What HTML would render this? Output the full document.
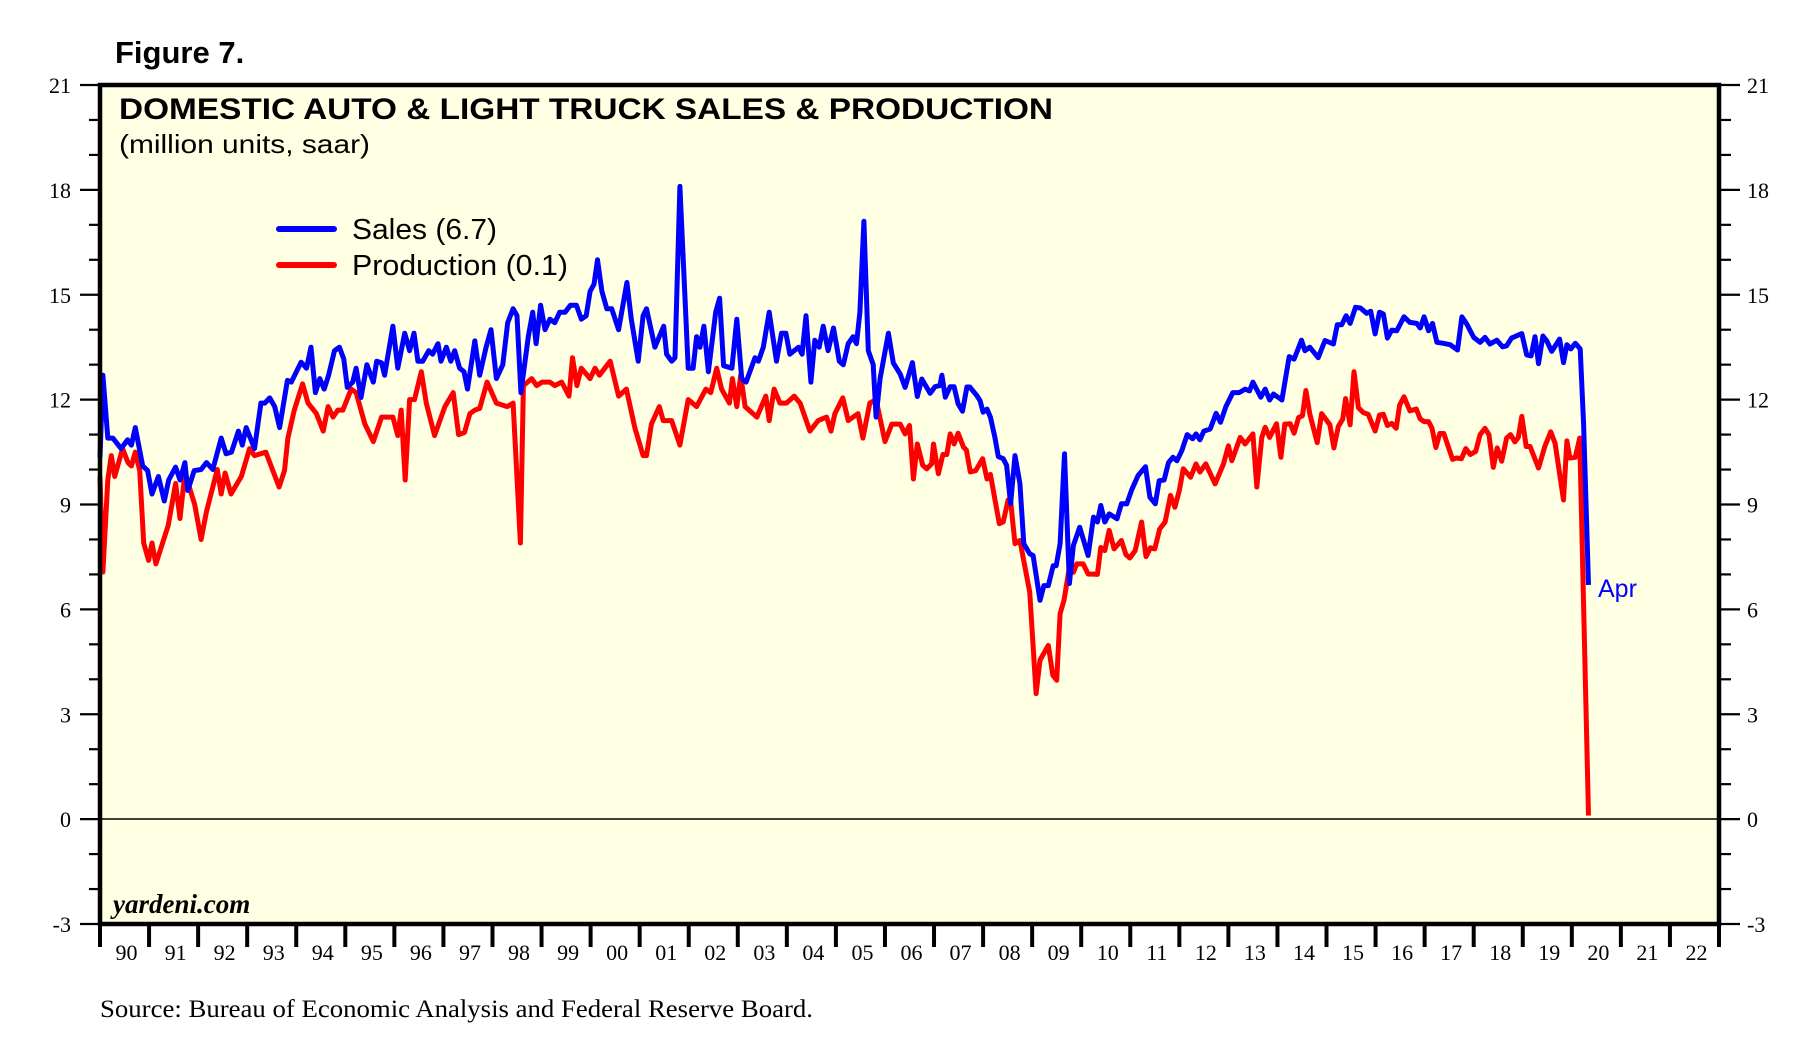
<!DOCTYPE html>
<html><head><meta charset="utf-8"><style>
html,body{margin:0;padding:0;background:#fff;}
svg{display:block;}
</style></head><body>
<svg id="chart" width="1812" height="1051" viewBox="0 0 1812 1051" xmlns="http://www.w3.org/2000/svg">
<text x="115" y="63" font-family="Liberation Sans, sans-serif" font-weight="bold" font-size="31">Figure 7.</text>
<rect x="100" y="85" width="1619" height="839" fill="#FFFFE3"/>
<g id="axes"></g>
<line x1="100" x2="1719" y1="819" y2="819" stroke="#000" stroke-width="1.6"/>
<g id="series"></g>
<rect x="100" y="85" width="1619" height="839" fill="none" stroke="#000" stroke-width="4.5"/>
<text x="119" y="119" font-family="Liberation Sans, sans-serif" font-weight="bold" font-size="30" textLength="934" lengthAdjust="spacingAndGlyphs">DOMESTIC AUTO &amp; LIGHT TRUCK SALES &amp; PRODUCTION</text>
<text x="119" y="153" font-family="Liberation Sans, sans-serif" font-size="26" textLength="251" lengthAdjust="spacingAndGlyphs">(million units, saar)</text>
<g>
<line x1="279" x2="334" y1="229" y2="229" stroke="#0000FF" stroke-width="6" stroke-linecap="round"/>
<text x="352" y="239" font-family="Liberation Sans, sans-serif" font-size="29" textLength="145" lengthAdjust="spacingAndGlyphs">Sales (6.7)</text>
<line x1="279" x2="334" y1="265" y2="265" stroke="#FF0000" stroke-width="6" stroke-linecap="round"/>
<text x="352" y="275" font-family="Liberation Sans, sans-serif" font-size="29" textLength="216" lengthAdjust="spacingAndGlyphs">Production (0.1)</text>
</g>
<text x="1598" y="597" font-family="Liberation Sans, sans-serif" font-size="25" fill="#0000FF">Apr</text>
<text x="113" y="913" font-family="Liberation Serif, serif" font-weight="bold" font-style="italic" font-size="27">yardeni.com</text>
<text x="100" y="1017" font-family="Liberation Serif, serif" font-size="25" textLength="713" lengthAdjust="spacingAndGlyphs">Source: Bureau of Economic Analysis and Federal Reserve Board.</text>
</svg>
<script>
// Data (years since Jan 1990, million units saar)
const salesT = [0.0,0.06,0.16,0.26,0.43,0.56,0.64,0.72,0.87,0.97,1.06,1.19,1.31,1.4,1.54,1.63,1.73,1.79,1.92,2.06,2.17,2.3,2.47,2.57,2.68,2.82,2.9,2.98,3.15,3.28,3.36,3.46,3.56,3.66,3.82,3.9,4.1,4.21,4.3,4.39,4.48,4.57,4.66,4.78,4.88,4.97,5.04,5.15,5.22,5.32,5.44,5.57,5.64,5.74,5.8,5.97,6.07,6.21,6.31,6.4,6.48,6.58,6.7,6.78,6.89,6.95,7.06,7.15,7.23,7.33,7.42,7.49,7.64,7.74,7.87,7.97,8.08,8.21,8.31,8.42,8.5,8.58,8.73,8.82,8.89,8.98,9.07,9.17,9.27,9.37,9.48,9.59,9.71,9.81,9.91,9.99,10.07,10.14,10.23,10.33,10.43,10.57,10.74,10.83,10.97,11.07,11.14,11.31,11.49,11.55,11.65,11.72,11.82,11.99,12.09,12.16,12.23,12.31,12.4,12.55,12.63,12.71,12.88,12.98,13.08,13.17,13.35,13.42,13.52,13.64,13.79,13.89,13.98,14.06,14.24,14.31,14.39,14.49,14.57,14.66,14.74,14.84,14.95,15.07,15.15,15.25,15.35,15.42,15.49,15.57,15.66,15.76,15.82,15.9,16.07,16.17,16.31,16.41,16.56,16.66,16.75,16.92,17.02,17.12,17.16,17.23,17.33,17.41,17.49,17.58,17.67,17.73,17.87,17.94,18.0,18.08,18.15,18.24,18.31,18.41,18.48,18.56,18.65,18.75,18.83,18.95,19.02,19.16,19.24,19.33,19.43,19.49,19.57,19.66,19.76,19.84,19.97,20.14,20.25,20.33,20.4,20.48,20.57,20.73,20.82,20.93,21.03,21.16,21.31,21.4,21.51,21.59,21.69,21.78,21.87,21.95,22.05,22.16,22.27,22.34,22.42,22.5,22.63,22.75,22.84,22.95,23.09,23.22,23.34,23.43,23.5,23.66,23.75,23.84,23.92,24.09,24.24,24.34,24.49,24.56,24.66,24.83,24.97,25.14,25.22,25.31,25.4,25.48,25.59,25.69,25.82,25.9,25.99,26.08,26.16,26.24,26.33,26.43,26.58,26.7,26.84,26.91,26.99,27.08,27.16,27.25,27.38,27.52,27.67,27.76,27.86,28.0,28.13,28.23,28.33,28.47,28.59,28.67,28.77,28.98,29.08,29.17,29.25,29.32,29.41,29.49,29.59,29.75,29.83,29.9,29.98,30.07,30.17,30.24,30.34];
const salesV = [10.35,12.7,10.9,10.9,10.6,10.85,10.7,11.2,10.1,9.97,9.3,9.8,9.1,9.7,10.07,9.7,10.2,9.4,9.97,10.0,10.2,10.0,10.9,10.45,10.5,11.1,10.7,11.2,10.6,11.9,11.9,12.05,11.8,11.2,12.55,12.5,13.07,12.9,13.5,12.2,12.6,12.3,12.7,13.4,13.5,13.16,12.35,12.5,12.9,12.06,13.0,12.5,13.1,13.05,12.7,14.1,12.9,13.9,13.4,13.9,13.1,13.1,13.4,13.3,13.6,13.1,13.5,13.1,13.4,12.9,12.8,12.3,13.68,12.7,13.5,14.0,12.6,13.0,14.2,14.6,14.4,12.2,13.8,14.5,13.6,14.7,14.0,14.3,14.2,14.5,14.5,14.7,14.7,14.3,14.4,15.1,15.3,16.0,15.1,14.6,14.6,14.0,15.35,14.3,13.1,14.4,14.6,13.5,14.1,13.3,13.1,13.2,18.1,12.9,12.9,13.8,13.5,14.1,12.8,14.5,14.9,12.97,12.9,14.3,12.6,12.5,13.2,13.1,13.5,14.5,13.1,13.9,13.9,13.3,13.5,13.3,14.4,12.5,13.7,13.5,14.1,13.4,14.05,13.1,13.0,13.6,13.8,13.6,14.5,17.1,13.4,13.0,11.5,12.6,13.9,13.05,12.73,12.35,13.06,12.09,12.59,12.18,12.37,12.4,12.7,12.07,12.37,12.37,11.88,11.67,12.36,12.36,12.12,11.97,11.64,11.73,11.5,10.92,10.37,10.31,10.12,9.02,10.4,9.6,7.88,7.59,7.54,6.26,6.68,6.68,7.25,7.25,7.88,10.45,6.74,7.83,8.35,7.54,8.64,8.5,8.97,8.5,8.73,8.59,9.02,9.02,9.42,9.83,10.08,9.21,9.02,9.68,9.7,10.2,10.35,10.25,10.54,11.0,10.88,11.02,10.85,11.1,11.16,11.61,11.35,11.8,12.2,12.2,12.3,12.25,12.5,12.07,12.3,11.99,12.16,11.99,13.23,13.16,13.7,13.4,13.5,13.2,13.69,13.59,14.14,14.14,14.4,14.18,14.64,14.62,14.47,14.53,13.88,14.5,14.45,13.76,13.99,13.97,14.37,14.21,14.18,14.05,14.37,13.97,14.18,13.64,13.61,13.57,13.42,14.37,14.16,13.78,13.64,13.78,13.59,13.7,13.51,13.54,13.76,13.89,13.28,13.25,13.8,13.03,13.82,13.68,13.38,13.73,13.06,13.57,13.45,13.61,13.45,11.3,6.7];
const prodT = [0.0,0.06,0.16,0.23,0.3,0.46,0.57,0.64,0.72,0.81,0.89,0.99,1.06,1.14,1.39,1.54,1.63,1.73,1.93,2.06,2.17,2.3,2.39,2.47,2.55,2.67,2.88,3.05,3.15,3.38,3.65,3.76,3.83,3.96,4.13,4.24,4.41,4.55,4.65,4.75,4.85,4.95,5.12,5.22,5.4,5.57,5.74,5.97,6.07,6.14,6.22,6.31,6.41,6.55,6.65,6.82,7.03,7.2,7.31,7.43,7.54,7.64,7.74,7.89,8.08,8.3,8.42,8.57,8.63,8.8,8.9,9.01,9.17,9.27,9.41,9.56,9.63,9.72,9.81,9.99,10.09,10.18,10.4,10.57,10.73,10.9,11.07,11.14,11.24,11.4,11.48,11.65,11.82,11.99,12.16,12.35,12.45,12.57,12.67,12.83,12.89,12.98,13.06,13.15,13.39,13.57,13.64,13.74,13.86,13.99,14.15,14.27,14.47,14.64,14.81,14.9,14.98,15.14,15.25,15.45,15.55,15.69,15.82,16.0,16.14,16.31,16.41,16.5,16.58,16.66,16.77,16.85,16.95,16.99,17.09,17.18,17.26,17.33,17.41,17.49,17.6,17.66,17.74,17.85,17.99,18.08,18.15,18.33,18.41,18.51,18.56,18.65,18.75,18.95,19.08,19.16,19.33,19.42,19.5,19.57,19.65,19.76,19.84,19.91,20.04,20.14,20.25,20.33,20.4,20.48,20.57,20.67,20.82,20.91,20.99,21.1,21.23,21.32,21.41,21.5,21.6,21.71,21.82,21.91,22.0,22.08,22.23,22.34,22.42,22.54,22.73,22.9,23.0,23.07,23.24,23.34,23.5,23.58,23.68,23.75,23.84,23.98,24.07,24.15,24.26,24.34,24.43,24.51,24.58,24.66,24.81,24.9,25.07,25.15,25.24,25.33,25.39,25.48,25.56,25.65,25.75,25.85,25.99,26.08,26.16,26.24,26.33,26.42,26.49,26.58,26.7,26.83,26.91,26.99,27.08,27.15,27.23,27.31,27.39,27.57,27.65,27.75,27.84,27.93,28.04,28.13,28.23,28.31,28.4,28.48,28.57,28.67,28.75,28.84,28.91,28.98,29.07,29.15,29.32,29.45,29.57,29.66,29.83,29.9,29.96,30.07,30.16,30.34];
const prodV = [9.8,7.07,9.7,10.4,9.8,10.6,10.2,10.1,10.5,9.97,7.9,7.4,7.9,7.3,8.4,9.6,8.6,9.9,9.0,8.0,8.8,9.5,10.0,9.3,9.9,9.3,9.8,10.6,10.4,10.5,9.5,9.97,10.9,11.7,12.45,11.9,11.6,11.1,11.8,11.5,11.7,11.7,12.3,12.2,11.3,10.8,11.5,11.5,10.97,11.7,9.7,12.0,12.0,12.8,11.9,10.97,11.8,12.2,11.0,11.06,11.6,11.7,11.75,12.5,11.9,11.8,11.9,7.9,12.4,12.6,12.4,12.5,12.5,12.4,12.5,12.1,13.2,12.4,12.9,12.6,12.9,12.7,13.1,12.1,12.3,11.2,10.4,10.4,11.3,11.8,11.4,11.4,10.7,12.0,11.8,12.3,12.2,12.9,12.3,11.9,12.6,11.8,12.7,11.8,11.5,12.1,11.4,12.3,11.9,11.9,12.1,11.9,11.1,11.4,11.5,11.1,11.6,12.05,11.4,11.6,10.9,11.9,12.0,10.8,11.3,11.3,11.02,11.26,9.73,10.73,10.12,10.02,10.16,10.73,9.88,10.43,10.43,11.02,10.73,11.04,10.64,10.56,9.93,9.97,10.31,9.73,9.86,8.45,8.5,9.13,9.1,7.88,7.97,6.5,3.59,4.55,4.97,4.12,3.97,5.88,6.26,7.21,7.06,7.3,7.3,7.01,7.01,7.0,7.77,7.68,8.26,7.73,7.97,7.57,7.47,7.68,8.5,7.51,7.76,7.73,8.3,8.5,9.26,8.92,9.4,10.02,9.78,10.16,9.93,10.16,9.59,10.16,10.68,10.25,10.92,10.73,11.02,9.5,10.92,11.21,10.92,11.31,10.35,11.3,11.31,11.04,11.49,11.54,12.26,11.59,10.77,11.6,11.28,10.62,11.23,11.44,12.03,11.28,12.8,11.77,11.63,11.58,11.1,11.56,11.58,11.26,11.32,11.18,11.84,12.08,11.68,11.73,11.45,11.37,11.37,11.18,10.63,11.03,11.03,10.29,10.33,10.31,10.6,10.43,10.52,11.0,11.18,11.0,10.06,10.62,10.24,10.9,11.0,10.79,10.92,11.52,10.66,10.66,10.04,10.66,11.08,10.75,9.13,10.82,10.33,10.35,10.9,0.1];
const yTicks = [-3,0,3,6,9,12,15,18,21];
const yearLabels = ["90","91","92","93","94","95","96","97","98","99","00","01","02","03","04","05","06","07","08","09","10","11","12","13","14","15","16","17","18","19","20","21","22"];

const NS = "http://www.w3.org/2000/svg";
const X0 = 100, X1 = 1719, Y0 = 924, Y1 = 85, VMIN = -3, VMAX = 21, NYEARS = 33;
function xScale(t){ return X0 + t * (X1 - X0) / NYEARS; }
function yScale(v){ return Y0 - (v - VMIN) * (Y0 - Y1) / (VMAX - VMIN); }
function mk(tag, attrs, parent){ const e=document.createElementNS(NS,tag); for(const k in attrs) e.setAttribute(k,attrs[k]); parent.appendChild(e); return e; }

const axes = document.getElementById('axes');
for (let v = VMIN; v <= VMAX; v++) {
  const major = (v % 3 === 0);
  const y = yScale(v);
  const tl = mk('line',{x1: major?80:89, x2:100, y1:y, y2:y, stroke:'#000', 'stroke-width':2.2}, axes);
  
  
  const tr = mk('line',{x1:1719, x2: major?1740:1731, y1:y, y2:y, stroke:'#000', 'stroke-width':2.2}, axes);
  
  
}
yTicks.forEach(v => {
  const y = yScale(v);
  const l = mk('text',{x:71, y:y+8, 'text-anchor':'end', 'font-family':'Liberation Serif, serif', 'font-size':22}, axes);
  l.textContent = String(v);
  
  
  const r = mk('text',{x:1747, y:y+8, 'text-anchor':'start', 'font-family':'Liberation Serif, serif', 'font-size':22}, axes);
  r.textContent = String(v);
  
  
});
for (let i = 0; i <= NYEARS; i++) {
  const x = xScale(i);
  const t = mk('line',{x1:x, x2:x, y1:924, y2:947, stroke:'#000', 'stroke-width':4}, axes);
  
  
}
yearLabels.forEach((lab, i) => {
  const t = mk('text',{x:xScale(i+0.5)+2, y:960, 'text-anchor':'middle', 'font-family':'Liberation Serif, serif', 'font-size':22}, axes);
  t.textContent = lab;
  
  
});

const series = document.getElementById('series');
function drawLine(ts, vs, color, name){
  let d = '';
  ts.forEach((t,i) => { d += (i ? 'L' : 'M') + xScale(t).toFixed(1) + ' ' + yScale(vs[i]).toFixed(1); });
  const p = mk('path',{d:d, fill:'none', stroke:color, 'stroke-width':5, 'stroke-linejoin':'round'}, series);
  
  
}
drawLine(prodT, prodV, '#FF0000', 'production-line');
drawLine(salesT, salesV, '#0000FF', 'sales-line');
</script>
</body></html>
